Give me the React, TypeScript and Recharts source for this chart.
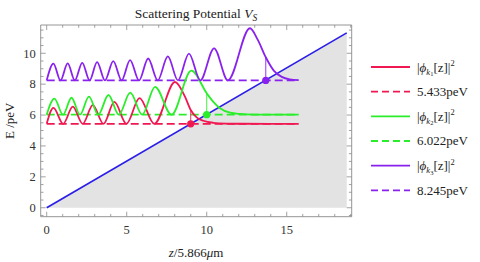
import React from 'react';
import { ComposedChart, XAxis, YAxis, Line, Area, Scatter, ReferenceArea, ReferenceLine } from 'recharts';

// ---------- data ----------
const energies = { k1: 5.433, k2: 6.022, k3: 8.245 };
const turningPoints = { k1: 9.0, k2: 10.0, k3: 13.69 };
const curveEnd = 15.75;

const psi1 = [
  { x: 0, y: 5.433 }, { x: 0.42, y: 6.46 }, { x: 1.03, y: 5.433 }, { x: 1.63, y: 6.54 },
  { x: 2.25, y: 5.433 }, { x: 2.88, y: 6.64 }, { x: 3.55, y: 5.433 }, { x: 4.23, y: 6.85 },
  { x: 4.98, y: 5.433 }, { x: 5.8, y: 7.1 }, { x: 6.72, y: 5.433 }, { x: 8.02, y: 8.14 },
  { x: 8.64, y: 7.19 }, { x: 9.0, y: 6.33 }, { x: 9.37, y: 5.85 }, { x: 9.79, y: 5.63 },
  { x: 10.41, y: 5.5 }, { x: 11.25, y: 5.45 }, { x: 12.2, y: 5.436 }, { x: 15.75, y: 5.433 },
];
const psi2 = [
  { x: 0, y: 6.022 }, { x: 0.48, y: 7.06 }, { x: 1.02, y: 6.022 }, { x: 1.55, y: 7.12 },
  { x: 2.08, y: 6.022 }, { x: 2.64, y: 7.19 }, { x: 3.22, y: 6.022 }, { x: 3.86, y: 7.3 },
  { x: 4.51, y: 6.022 }, { x: 5.22, y: 7.45 }, { x: 5.97, y: 6.022 }, { x: 6.77, y: 7.82 },
  { x: 7.8, y: 6.022 }, { x: 9.04, y: 8.88 }, { x: 10.0, y: 7.41 }, { x: 10.4, y: 6.87 },
  { x: 10.83, y: 6.44 }, { x: 11.46, y: 6.15 }, { x: 12.08, y: 6.07 }, { x: 13.0, y: 6.03 },
  { x: 15.75, y: 6.022 },
];
const psi3 = [
  { x: 0, y: 8.245 }, { x: 0.42, y: 9.33 }, { x: 0.86, y: 8.245 }, { x: 1.31, y: 9.34 },
  { x: 1.76, y: 8.245 }, { x: 2.22, y: 9.38 }, { x: 2.68, y: 8.245 }, { x: 3.15, y: 9.43 },
  { x: 3.64, y: 8.245 }, { x: 4.16, y: 9.49 }, { x: 4.68, y: 8.245 }, { x: 5.21, y: 9.56 },
  { x: 5.77, y: 8.245 }, { x: 6.34, y: 9.66 }, { x: 6.94, y: 8.245 }, { x: 7.57, y: 9.8 },
  { x: 8.2, y: 8.245 }, { x: 8.89, y: 9.98 }, { x: 9.6, y: 8.245 }, { x: 10.46, y: 10.32 },
  { x: 11.32, y: 8.245 }, { x: 12.7, y: 11.62 }, { x: 13.2, y: 10.85 }, { x: 13.69, y: 9.74 },
  { x: 14.19, y: 8.88 }, { x: 14.69, y: 8.47 }, { x: 15.19, y: 8.31 }, { x: 15.75, y: 8.255 },
];
const potential = [{ x: 0, y: 0 }, { x: 18.75, y: 11.32 }];

const dots = [
  { x: 9.0, y: 5.433, c: 'red' },
  { x: 10.0, y: 6.022, c: 'green' },
  { x: 13.69, y: 8.245, c: 'purple' },
];
const dropTops = { k1: 6.33, k2: 7.41, k3: 9.74 };

const xLabelTicks = [0, 5, 10, 15];
const xMinorTicks = [0, 1, 2, 3, 4, 5, 6, 7, 8, 9, 10, 11, 12, 13, 14, 15, 16, 17, 18, 19];
const yLabelTicks = [0, 2, 4, 6, 8, 10];
const yMinorTicks = [-0.5, 0, 0.5, 1, 1.5, 2, 2.5, 3, 3.5, 4, 4.5, 5, 5.5, 6, 6.5, 7, 7.5, 8, 8.5, 9, 9.5, 10, 10.5, 11, 11.5];

const legendEnergies = ['5.433peV', '6.022peV', '8.245peV'];

// ---------- style ----------
const X_MIN = -0.375, X_MAX = 19.06, Y_MIN = -0.58, Y_MAX = 11.83;
const M = { top: 25, right: 128.3, bottom: 15.3, left: 10.7 };
const W = 480, H = 262;
const PLOT_W = W - M.left - 30 - M.right;
const PLOT_H = H - M.top - 30 - M.bottom;
const DX = (X_MAX - X_MIN) / PLOT_W;
const DY = (Y_MAX - Y_MIN) / PLOT_H;

const COLORS: Record<string, string> = {
  red: '#F01850', green: '#2AEE2A', purple: '#8A22EE', blue: '#2B1EE8',
};
const FRAME = '#8a8a8a';
const FONT = 'Liberation Serif, DejaVu Serif, serif';

const straight = (x1: number, y1: number, x2: number, y2: number) => [{ x: x1, y: y1 }, { x: x2, y: y2 }];

const XTick = (p: any) => (
  <text x={p.x} y={p.y + 9} textAnchor="middle" fontSize={12.5} fontFamily={FONT} fill="#333">{p.payload.value}</text>
);
const YTick = (p: any) => (
  <text x={p.x} y={p.y + 4.3} textAnchor="end" fontSize={12.5} fontFamily={FONT} fill="#333">{p.payload.value}</text>
);

export default function App() {
  const tickLines: React.ReactNode[] = [];
  xMinorTicks.forEach((v) => {
    const len = (xLabelTicks.includes(v) ? 5 : 2.8);
    tickLines.push(<ReferenceLine key={'b' + v} segment={[{ x: v, y: Y_MIN }, { x: v, y: Y_MIN + len * DY }]} stroke={FRAME} strokeWidth={0.8} />);
    tickLines.push(<ReferenceLine key={'t' + v} segment={[{ x: v, y: Y_MAX }, { x: v, y: Y_MAX - len * DY }]} stroke={FRAME} strokeWidth={0.8} />);
  });
  yMinorTicks.forEach((v) => {
    const len = (yLabelTicks.includes(v) ? 5 : 2.8);
    tickLines.push(<ReferenceLine key={'l' + v} segment={[{ x: X_MIN, y: v }, { x: X_MIN + len * DX, y: v }]} stroke={FRAME} strokeWidth={0.8} />);
    tickLines.push(<ReferenceLine key={'r' + v} segment={[{ x: X_MAX, y: v }, { x: X_MAX - len * DX, y: v }]} stroke={FRAME} strokeWidth={0.8} />);
  });

  const legendRows = [
    { color: COLORS.red, dashed: false, kind: 'psi', idx: '1' },
    { color: COLORS.red, dashed: true, kind: 'e', idx: '0' },
    { color: COLORS.green, dashed: false, kind: 'psi', idx: '2' },
    { color: COLORS.green, dashed: true, kind: 'e', idx: '1' },
    { color: COLORS.purple, dashed: false, kind: 'psi', idx: '3' },
    { color: COLORS.purple, dashed: true, kind: 'e', idx: '2' },
  ];

  return (
    <div style={{ position: 'absolute', left: 0, top: 0, width: W, height: H, background: '#fff' }}>
      <ComposedChart width={W} height={H} margin={M}>
        <XAxis type="number" dataKey="x" domain={[X_MIN, X_MAX]} allowDataOverflow ticks={xLabelTicks}
          axisLine={false} tickLine={false} height={30} tickSize={6} tickMargin={2} tick={XTick} />
        <YAxis type="number" dataKey="y" domain={[Y_MIN, Y_MAX]} allowDataOverflow ticks={yLabelTicks}
          axisLine={false} tickLine={false} width={30} tickSize={3} tickMargin={2} tick={YTick} />
        <Area data={potential} dataKey="y" type="linear" baseValue={0} fill="#e3e3e3" fillOpacity={1} stroke="none" isAnimationActive={false} />
        <Line data={potential} dataKey="y" type="linear" stroke={COLORS.blue} strokeWidth={1.7} dot={false} isAnimationActive={false} />
        <Line data={straight(0, energies.k1, curveEnd, energies.k1)} dataKey="y" stroke={COLORS.red} strokeWidth={1.7} strokeDasharray="8 4" dot={false} isAnimationActive={false} />
        <Line data={straight(0, energies.k2, curveEnd, energies.k2)} dataKey="y" stroke={COLORS.green} strokeWidth={1.7} strokeDasharray="8 4" dot={false} isAnimationActive={false} />
        <Line data={straight(0, energies.k3, curveEnd, energies.k3)} dataKey="y" stroke={COLORS.purple} strokeWidth={1.7} strokeDasharray="8 4" dot={false} isAnimationActive={false} />
        <Line data={psi1} dataKey="y" type="monotone" stroke={COLORS.red} strokeWidth={1.8} dot={false} isAnimationActive={false} />
        <Line data={psi2} dataKey="y" type="monotone" stroke={COLORS.green} strokeWidth={1.8} dot={false} isAnimationActive={false} />
        <Line data={psi3} dataKey="y" type="monotone" stroke={COLORS.purple} strokeWidth={1.8} dot={false} isAnimationActive={false} />
        <Line data={straight(turningPoints.k1, energies.k1, turningPoints.k1, dropTops.k1)} dataKey="y" stroke={COLORS.red} strokeWidth={0.9} dot={false} isAnimationActive={false} />
        <Line data={straight(turningPoints.k2, energies.k2, turningPoints.k2, dropTops.k2)} dataKey="y" stroke={COLORS.green} strokeWidth={0.9} dot={false} isAnimationActive={false} />
        <Line data={straight(turningPoints.k3, energies.k3, turningPoints.k3, dropTops.k3)} dataKey="y" stroke={COLORS.purple} strokeWidth={0.9} dot={false} isAnimationActive={false} />
        <Scatter data={dots} dataKey="y" isAnimationActive={false}
          shape={(p: any) => <circle cx={p.cx} cy={p.cy} r={3.6} fill={COLORS[p.payload.c]} />} />
        <ReferenceArea x1={X_MIN} x2={X_MAX} y1={Y_MIN} y2={Y_MAX} fill="none" stroke={FRAME} strokeWidth={0.9} ifOverflow="visible" />
        {tickLines}
      </ComposedChart>
      <svg width={W} height={H} style={{ position: 'absolute', left: 0, top: 0, pointerEvents: 'none' }}
        fontFamily={FONT} fill="#222">
        <text x={196} y={18} textAnchor="middle" fontSize={13.5}>
          Scattering Potential <tspan fontStyle="italic">V</tspan><tspan fontStyle="italic" fontSize={9.5} dy={3}>S</tspan>
        </text>
        <text x={196} y={257} textAnchor="middle" fontSize={13}>
          <tspan fontStyle="italic">z</tspan>/5.866<tspan fontStyle="italic">μ</tspan>m
        </text>
        <text x={14} y={120.8} textAnchor="middle" fontSize={13} transform="rotate(-90 14 120.8)">E /peV</text>
        {legendRows.map((r, i) => {
          const cy = 67 + i * 24.66;
          return (
            <g key={i}>
              <line x1={371} x2={410} y1={cy} y2={cy} stroke={r.color} strokeWidth={1.8} strokeDasharray={r.dashed ? '7 4' : undefined} />
              {r.kind === 'psi' ? (
                <text x={417} y={cy + 4.5} fontSize={13}>
                  |<tspan fontStyle="italic">ϕ</tspan><tspan fontStyle="italic" fontSize={8.5} dy={3}>k</tspan><tspan fontSize={6.5} dy={1.5}>{r.idx}</tspan><tspan fontSize={13} dy={-4.5}>[z]|</tspan><tspan fontSize={8.5} dy={-5.5}>2</tspan>
                </text>
              ) : (
                <text x={417} y={cy + 4.5} fontSize={13}>{legendEnergies[Number(r.idx)]}</text>
              )}
            </g>
          );
        })}
      </svg>
    </div>
  );
}
